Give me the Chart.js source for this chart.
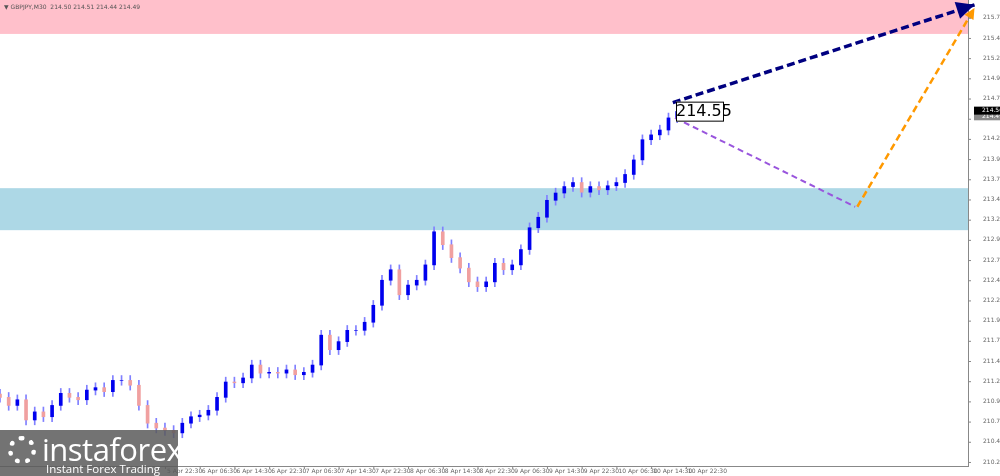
<!DOCTYPE html>
<html><head><meta charset="utf-8">
<script src="https://cdn.jsdelivr.net/npm/chart.js@4"></script>
<style>
html,body{margin:0;padding:0;background:#fff;overflow:hidden}
#wrap{position:relative;width:1000px;height:476px}
#title{position:absolute;left:4px;top:3px;font:6px "DejaVu Sans",sans-serif;color:#555}
#logo{position:absolute;left:0;top:430px;width:178px;height:46px;background:rgba(90,90,90,0.85);color:#fff;font-family:"Open Sans",sans-serif}
#logo .a{position:absolute;left:42px;top:-2px;font-size:31px;letter-spacing:-0.5px}
#logo .b{position:absolute;left:46px;top:31px;font-size:11.5px}
#logo .g{position:absolute;left:8px;top:6px;width:28px;height:28px;border-radius:50%;border:5px dotted #fff;box-sizing:border-box}
</style></head><body>
<div id="wrap"><canvas id="c" width="1000" height="476"></canvas>
<div id="title">▼ GBPJPY,M30&nbsp; 214.50 214.51 214.44 214.49</div>
<div id="logo"><div class="g"></div><div class="a">instaforex</div><div class="b">Instant Forex Trading</div></div>
</div>
<script>
const closes=[211.01,210.91,210.98,210.73,210.83,210.77,210.91,211.06,211.01,210.98,211.10,211.13,211.08,211.22,211.22,211.16,210.91,210.69,210.63,210.60,210.57,210.69,210.77,210.79,210.85,211.01,211.20,211.19,211.25,211.41,211.31,211.32,211.31,211.35,211.29,211.32,211.41,211.78,211.60,211.70,211.84,211.84,211.94,212.15,212.46,212.59,212.28,212.40,212.46,212.65,213.06,212.90,212.74,212.61,212.44,212.38,212.44,212.67,212.59,212.65,212.84,213.11,213.24,213.45,213.54,213.62,213.67,213.55,213.62,213.58,213.63,213.67,213.77,213.95,214.20,214.26,214.32,214.47,214.55];
const firstOpen=211.05;
const yTicks=[215.71,215.46,215.21,214.96,214.71,214.46,214.21,213.96,213.71,213.46,213.21,212.96,212.71,212.46,212.21,211.96,211.71,211.46,211.21,210.96,210.71,210.46,210.21];
const xTickPos=[76,92,108,124,140,156,172,188,204,220,236,252,268,284,300,316];
const xTickLabels=["5 Apr 22:30","6 Apr 06:30","6 Apr 14:30","6 Apr 22:30","7 Apr 06:30","7 Apr 14:30","7 Apr 22:30","8 Apr 06:30","8 Apr 14:30","8 Apr 22:30","9 Apr 06:30","9 Apr 14:30","9 Apr 22:30","10 Apr 06:30","10 Apr 14:30","10 Apr 22:30"];
const resistZone=[215.51,215.93];
const supportZone=[213.08,213.60];
const forecastMain=[{x:310,y:214.66},{x:449,y:215.87}];
const forecastDown=[{x:311,y:214.47},{x:394,y:213.37}];
const forecastUp=[{x:395,y:213.37},{x:449,y:215.83}];
const lastPrice=214.56, bidPrice=214.49;

const bodies=closes.map((c,i)=>({x:i*4,y:[i?closes[i-1]:firstOpen,c]}));
const wicks=bodies.map(b=>({x:b.x,y:[Math.min(...b.y)-0.06,Math.max(...b.y)+0.06]}));
const upCol='#0000ee', dnCol='#f0a0a0';
const colOf=ctx=>{const r=ctx.raw; return r&&r.y[1]>=r.y[0]?upCol:dnCol;};

const bg={id:'bg',beforeDatasetsDraw(ch){const {ctx,chartArea:a,scales:{y}}=ch;ctx.save();
 ctx.fillStyle='#ffc0cb';ctx.fillRect(a.left,y.getPixelForValue(resistZone[1]),a.right-a.left,y.getPixelForValue(resistZone[0])-y.getPixelForValue(resistZone[1]));
 ctx.fillStyle='#add8e6';ctx.fillRect(a.left,y.getPixelForValue(supportZone[1]),a.right-a.left,y.getPixelForValue(supportZone[0])-y.getPixelForValue(supportZone[1]));
 ctx.restore();}};
function head(ctx,x0,y0,x1,y1,col,s){const an=Math.atan2(y1-y0,x1-x0);ctx.fillStyle=col;ctx.beginPath();ctx.moveTo(x1,y1);
 ctx.lineTo(x1-s*Math.cos(an-0.45),y1-s*Math.sin(an-0.45));ctx.lineTo(x1-s*Math.cos(an+0.45),y1-s*Math.sin(an+0.45));ctx.closePath();ctx.fill();}
const fg={id:'fg',afterDatasetsDraw(ch){const {ctx,chartArea:ca,scales:{x,y}}=ch;ctx.save();
 const P=p=>[x.getPixelForValue(p.x),y.getPixelForValue(p.y)];
 let a=P(forecastUp[0]),b=P(forecastUp[1]);head(ctx,a[0],a[1],b[0],b[1],'#ff9900',12);
 a=P(forecastMain[0]);b=P(forecastMain[1]);head(ctx,a[0],a[1],b[0],b[1],'#000080',20);
 // axis tick labels
 ctx.font='6px "DejaVu Sans"';ctx.fillStyle='#666';ctx.textBaseline='middle';ctx.strokeStyle='#888';ctx.lineWidth=1;
 yTicks.forEach(v=>{const py=y.getPixelForValue(v);ctx.beginPath();ctx.moveTo(ca.right,py+0.5);ctx.lineTo(ca.right+3,py+0.5);ctx.stroke();ctx.fillText(v.toFixed(2),ca.right+15,py);});
 xTickPos.forEach((v,i)=>{const px=x.getPixelForValue(v);ctx.beginPath();ctx.moveTo(px+0.5,ca.bottom);ctx.lineTo(px+0.5,ca.bottom+3);ctx.stroke();ctx.fillText(xTickLabels[i],px+2,ca.bottom+5);});
 // price label box
 const lx=x.getPixelForValue(311),ly=y.getPixelForValue(lastPrice);
 ctx.fillStyle='#fff';ctx.fillRect(lx+1,ly-9,48,20);ctx.strokeStyle='#000';ctx.strokeRect(lx+1.5,ly-8.5,47,19);
 ctx.fillStyle='#000';ctx.font='16px "DejaVu Sans"';ctx.fillText('214.55',lx+1,ly+1.5);
 // axis price tags
 const ax=ca.right+6;ctx.font='6px "DejaVu Sans"';
 let py=y.getPixelForValue(bidPrice);ctx.fillStyle='#888';ctx.fillRect(ax,py-4,26,8);ctx.fillStyle='#fff';ctx.fillText(bidPrice.toFixed(2),ax+8,py);
 py=y.getPixelForValue(lastPrice);ctx.fillStyle='#000';ctx.fillRect(ax,py-4,26,8);ctx.fillStyle='#fff';ctx.fillText(lastPrice.toFixed(2),ax+8,py);
 ctx.restore();}};

new Chart(document.getElementById('c'),{
 data:{datasets:[
  {type:'bar',data:wicks,backgroundColor:'#8080ff',barThickness:1,grouped:false,order:3},
  {type:'bar',data:bodies,backgroundColor:colOf,barThickness:3,grouped:false,order:2},
  {type:'line',data:forecastDown,borderColor:'#9955dd',borderWidth:2,borderDash:[6,4],pointRadius:0,clip:false,order:1},
  {type:'line',data:forecastUp,borderColor:'#ff9900',borderWidth:2.5,borderDash:[7,4],pointRadius:0,clip:false,order:1},
  {type:'line',data:forecastMain,borderColor:'#000080',borderWidth:3.5,borderDash:[8,4],pointRadius:0,clip:false,order:0}
 ]},
 options:{responsive:false,animation:false,layout:{padding:0},
  plugins:{legend:{display:false},tooltip:{enabled:false}},
  scales:{
   x:{type:'linear',offset:false,min:0,max:446,grid:{display:false},border:{color:'#888'},
    ticks:{display:false},afterFit:s=>{s.height=10}},
   y:{position:'right',min:210.16,max:215.93,grid:{display:false},border:{color:'#888'},
    ticks:{display:false},afterFit:s=>{s.width=32}}
  }},
 plugins:[bg,fg]});
</script></body></html>
